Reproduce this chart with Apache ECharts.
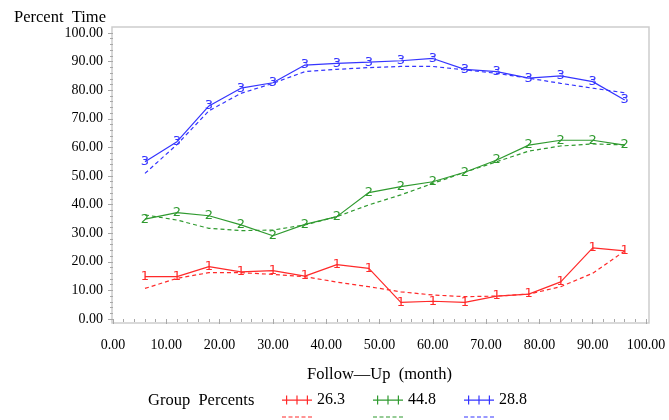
<!DOCTYPE html>
<html>
<head>
<meta charset="utf-8">
<script src="https://cdn.jsdelivr.net/npm/echarts@6/dist/echarts.min.js"></script>
<style>
  html, body { margin: 0; padding: 0; background: #fff; }
  #chart { width: 669px; height: 420px; }
</style>
</head>
<body>
<div id="chart"></div>
<script>
var months = [6, 12, 18, 24, 30, 36, 42, 48, 54, 60, 66, 72, 78, 84, 90, 96];
var groupNames = ['26.3', '44.8', '28.8'];
var groupMarks = ['1', '2', '3'];
var g1 = [14.8, 14.8, 18.3, 16.5, 16.9, 15.0, 19.0, 17.7, 5.8, 6.2, 5.8, 8.0, 8.7, 13.0, 24.9, 23.8];
var g1Fit = [10.7, 14.2, 16.2, 16.2, 15.6, 14.8, 12.9, 11.3, 9.5, 8.4, 7.8, 8.0, 8.7, 11.3, 16.0, 23.8];
var g2 = [34.9, 37.2, 36.1, 32.9, 29.1, 33.1, 35.8, 44.2, 46.3, 48.0, 51.3, 55.6, 60.8, 62.5, 62.5, 60.8];
var g2Fit = [36.4, 34.6, 31.7, 30.9, 31.1, 32.9, 35.8, 39.9, 43.4, 47.4, 51.3, 55.0, 58.7, 60.5, 61.2, 60.9];
var g3 = [55.0, 62.0, 74.5, 80.7, 82.6, 88.8, 89.4, 89.8, 90.3, 91.1, 87.3, 86.5, 84.2, 85.0, 83.0, 76.6];
var g3Fit = [50.9, 61.0, 72.8, 78.9, 82.4, 86.5, 87.3, 87.9, 88.3, 88.3, 87.1, 85.9, 84.2, 82.4, 80.7, 79.1];

var colors = ['#ff2a2a', '#2f9a2f', '#3535ff'];
var serif = '"Liberation Serif", "DejaVu Serif", serif';
var tickColor = '#a8a8a8';

var chart = echarts.init(document.getElementById('chart'), null, { renderer: 'canvas' });

function pairs(ys) {
  return months.map(function (m, i) { return [m, ys[i]]; });
}

function solid(i, ys) {
  return {
    name: groupNames[i],
    type: 'line',
    data: pairs(ys),
    symbol: 'circle',
    symbolSize: 0.1,
    itemStyle: { color: colors[i] },
    lineStyle: { color: colors[i], width: 1.2 },
    label: {
      show: true,
      position: 'inside',
      formatter: function () { return groupMarks[i]; },
      color: colors[i],
      fontFamily: '"DejaVu Sans", sans-serif',
      fontSize: 13
    },
    z: 3
  };
}

function fitted(i, ys) {
  return {
    name: 'fit' + groupNames[i],
    type: 'line',
    data: pairs(ys),
    symbol: 'none',
    itemStyle: { color: colors[i] },
    lineStyle: { color: colors[i], width: 1.2, type: [4, 3] },
    z: 2
  };
}

var solidIcon = 'path://M0,4h30v1.2H0z M4,0h1.2v9H4z M14.4,0h1.2v9h-1.2z M24.8,0h1.2v9h-1.2z';
var dashIcon = 'path://M0,0h4v1.2H0z M6.5,0h4v1.2h-4z M13,0h4v1.2h-4z M19.5,0h4v1.2h-4z M26,0h4v1.2h-4z';

chart.setOption({
  animation: false,
  backgroundColor: '#fff',
  textStyle: { fontFamily: serif },
  grid: [
    { left: 113, right: 23, top: 33, bottom: 101 },
    { left: 112, right: 20, top: 27, bottom: 97, show: true, borderColor: '#cdcdcd', borderWidth: 1.5 }
  ],
  xAxis: [
    {
      type: 'value',
      gridIndex: 0,
      min: 0,
      max: 100,
      interval: 10,
      offset: 4,
      name: 'Follow\u2014Up  (month)',
      nameLocation: 'middle',
      nameGap: 43,
      nameTextStyle: { color: '#000', fontSize: 16.5, fontFamily: serif },
      axisLine: { show: false },
      axisTick: { show: true, length: 5, lineStyle: { color: tickColor } },
      minorTick: { show: true, splitNumber: 5, length: 3, lineStyle: { color: tickColor } },
      splitLine: { show: false },
      axisLabel: {
        color: '#000',
        fontSize: 14,
        fontFamily: serif,
        margin: 15,
        formatter: function (v) { return v.toFixed(2); }
      }
    },
    { type: 'value', gridIndex: 1, show: false, min: 0, max: 1 }
  ],
  yAxis: [
    {
      type: 'value',
      gridIndex: 0,
      min: 0,
      max: 100,
      interval: 10,
      offset: 1,
      name: 'Percent  Time',
      nameLocation: 'end',
      nameGap: 6,
      nameTextStyle: { color: '#000', fontSize: 16.5, fontFamily: serif, align: 'right', padding: [0, 7, 0, 0] },
      axisLine: { show: false },
      axisTick: { show: true, length: 5, lineStyle: { color: tickColor } },
      minorTick: { show: true, splitNumber: 5, length: 3, lineStyle: { color: tickColor } },
      splitLine: { show: false },
      axisLabel: {
        color: '#000',
        fontSize: 14,
        fontFamily: serif,
        margin: 9,
        formatter: function (v) { return v.toFixed(2); }
      }
    },
    { type: 'value', gridIndex: 1, show: false, min: 0, max: 1 }
  ],
  legend: [
    {
      left: 282,
      top: 392,
      padding: 0,
      itemWidth: 30,
      itemHeight: 9,
      itemGap: 28,
      selectedMode: false,
      textStyle: { color: '#000', fontSize: 16, fontFamily: serif },
      data: groupNames.map(function (n) { return { name: n, icon: solidIcon }; })
    },
    {
      left: 282,
      top: 409,
      padding: 0,
      itemWidth: 30,
      itemHeight: 1.2,
      itemGap: 28,
      selectedMode: false,
      formatter: function (n) { return n.replace('fit', ''); },
      textStyle: { color: 'rgba(0,0,0,0)', fontSize: 16, fontFamily: serif },
      data: groupNames.map(function (n) { return { name: 'fit' + n, icon: dashIcon }; })
    }
  ],
  graphic: [
    {
      type: 'text',
      left: 148,
      top: 392,
      style: { text: 'Group  Percents', fill: '#000', font: '16.5px ' + serif }
    }
  ],
  series: [
    solid(0, g1), fitted(0, g1Fit),
    solid(1, g2), fitted(1, g2Fit),
    solid(2, g3), fitted(2, g3Fit)
  ]
});
</script>
</body>
</html>
